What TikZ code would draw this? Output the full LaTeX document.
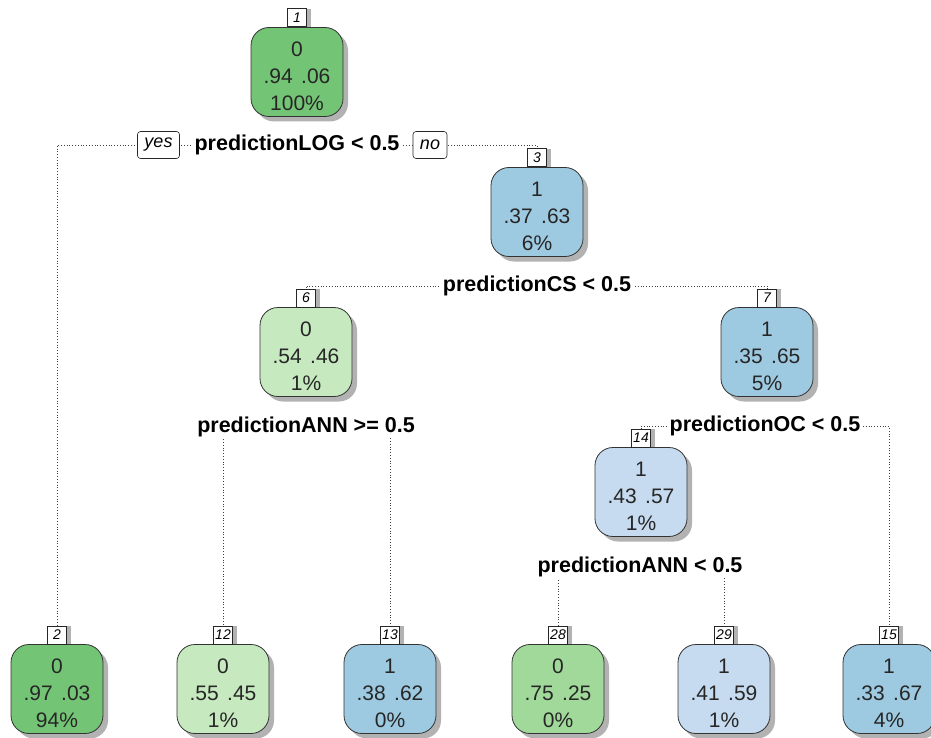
\documentclass[tikz,border=0pt]{standalone}
\usepackage{fontspec}
\setmainfont{Liberation Sans}
\usepackage{tikz}
\usetikzlibrary{shadows,backgrounds}

\definecolor{greendark}{HTML}{74C476}
\definecolor{greenmid}{HTML}{A1D99B}
\definecolor{greenlight}{HTML}{C7E9C0}
\definecolor{bluedark}{HTML}{9ECAE1}
\definecolor{bluelight}{HTML}{C6DBEF}

% class, probabilities, share of observations
\newcommand{\leaftext}[4]{\rule{0pt}{23pt}#1\\#2\hspace{0.4em}#3\\#4\%}

\tikzset{
  leafbox/.style={draw=black!80, line width=0.8pt, rounded corners=18pt,
    minimum width=92pt, minimum height=89pt, inner sep=0pt, align=center,
    text=black!85, font=\fontsize{21}{27}\selectfont,
    drop shadow={shadow xshift=5pt, shadow yshift=-5pt, fill=black!30, opacity=1}},
  numbox/.style={draw=black!85, fill=white, line width=0.6pt, anchor=south,
    minimum width=19pt, minimum height=18pt, inner sep=1.5pt,
    font=\fontsize{14}{14}\selectfont\itshape,
    drop shadow={shadow xshift=4pt, shadow yshift=0pt, fill=black!30, opacity=1}},
  splitlab/.style={fill=white, inner xsep=3pt, inner ysep=1pt,
    font=\fontsize{21.5}{22}\selectfont\bfseries},
  yesno/.style={draw=black!85, fill=white, line width=0.6pt, rounded corners=3pt,
    minimum height=27pt, inner xsep=7pt, font=\fontsize{18}{18}\selectfont\itshape},
  edge/.style={dotted, line width=0.8pt, black!75}
}

\begin{document}
\begin{tikzpicture}[x=1pt, y=-1pt]
        \useasboundingbox (0,0) rectangle (931,738);

        % Root
        \node[leafbox, fill=greendark] (n1) at (297,72) {\leaftext{0}{.94}{.06}{100}};
        \node[numbox] (l1) at (n1.north) {1};
        \node[splitlab] (s1) at (297,145) {predictionLOG < 0.5};
        \node[yesno] (yes) at (158.5,145) {yes};
        \node[yesno] (no) at (430,145) {no};

        % Inner nodes
        \node[leafbox, fill=bluedark] (n3) at (537,212) {\leaftext{1}{.37}{.63}{6}};
        \node[numbox] (l3) at (n3.north) {3};
        \node[splitlab] (s3) at (537,286) {predictionCS < 0.5};

        \node[leafbox, fill=greenlight] (n6) at (306,352) {\leaftext{0}{.54}{.46}{1}};
        \node[numbox] (l6) at (n6.north) {6};
        \node[splitlab] (s6) at (306,427) {predictionANN >= 0.5};

        \node[leafbox, fill=bluedark] (n7) at (767,352) {\leaftext{1}{.35}{.65}{5}};
        \node[numbox] (l7) at (n7.north) {7};
        \node[splitlab] (s7) at (765,426) {predictionOC < 0.5};

        \node[leafbox, fill=bluelight] (n14) at (641,492) {\leaftext{1}{.43}{.57}{1}};
        \node[numbox] (l14) at (n14.north) {14};
        \node[splitlab] (s14) at (640,567) {predictionANN < 0.5};

        % Leaves
        \node[leafbox, fill=greendark] (n2) at (57,689) {\leaftext{0}{.97}{.03}{94}};
        \node[numbox] (l2) at (n2.north) {2};
        \node[leafbox, fill=greenlight] (n12) at (223,689) {\leaftext{0}{.55}{.45}{1}};
        \node[numbox] (l12) at (n12.north) {12};
        \node[leafbox, fill=bluedark] (n13) at (390,689) {\leaftext{1}{.38}{.62}{0}};
        \node[numbox] (l13) at (n13.north) {13};
        \node[leafbox, fill=greenmid] (n28) at (558,689) {\leaftext{0}{.75}{.25}{0}};
        \node[numbox] (l28) at (n28.north) {28};
        \node[leafbox, fill=bluelight] (n29) at (724,689) {\leaftext{1}{.41}{.59}{1}};
        \node[numbox] (l29) at (n29.north) {29};
        \node[leafbox, fill=bluedark] (n15) at (889,689) {\leaftext{1}{.33}{.67}{4}};
        \node[numbox] (l15) at (n15.north) {15};

        % Branches (behind the labels)
        \begin{scope}[on background layer]
        \draw[edge] (s1.center) -| (l2.north);
        \draw[edge] (s1.center) -| (l3.north);
        \draw[edge] (s3.center) -| (l6.north);
        \draw[edge] (s3.center) -| (l7.north);
        \draw[edge] (s6.center) -| (l12.north);
        \draw[edge] (s6.center) -| (l13.north);
        \draw[edge] (s7.center) -| (l14.north);
        \draw[edge] (s7.center) -| (l15.north);
        \draw[edge] (s14.center) -| (l28.north);
        \draw[edge] (s14.center) -| (l29.north);
        \end{scope}
    \end{tikzpicture}
\end{document}
